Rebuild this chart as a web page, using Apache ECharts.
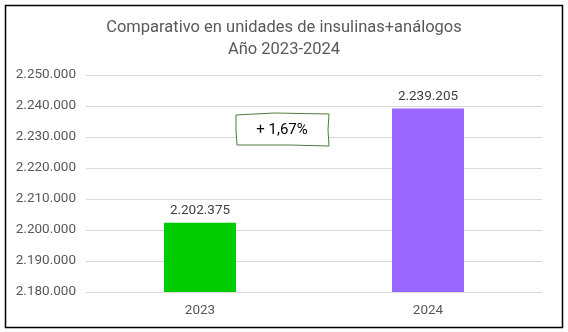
<!DOCTYPE html>
<html><head><meta charset="utf-8">
<script src="https://cdn.jsdelivr.net/npm/echarts@6/dist/echarts.min.js"></script>
<style>html,body{margin:0;padding:0;background:#fff}#c{width:568px;height:332px}</style>
</head><body><div id="c"></div>
<script>
const categories = ['2023', '2024'];
const values = [2202375, 2239205];
const barColors = ['#00CC00', '#9966FF'];
const titleText = 'Comparativo en unidades de insulinas+análogos\nAño 2023-2024';
const noteText = '+ 1,67%';
const yMin = 2180000, yMax = 2250000, yStep = 10000;

function fmt(v){ return String(Math.round(v)).replace(/\B(?=(\d{3})+(?!\d))/g, '.'); }

const chart = echarts.init(document.getElementById('c'));
chart.setOption({
  animation: false,
  textStyle: { fontFamily: 'Roboto, "Open Sans", sans-serif' },
  title: {
    text: titleText, left: 'center', top: 12,
    textStyle: { fontSize: 16.5, fontWeight: 'normal', color: '#595959', lineHeight: 22 }
  },
  grid: { left: 86, right: 26, top: 75, bottom: 40 },
  xAxis: {
    type: 'category', data: categories,
    axisLine: { show: false }, axisTick: { show: false },
    axisLabel: { color: '#595959', fontSize: 13.5, margin: 12 }
  },
  yAxis: {
    type: 'value', min: yMin, max: yMax, interval: yStep,
    axisLine: { show: false }, axisTick: { show: false },
    axisLabel: { color: '#595959', fontSize: 13.5, margin: 10, formatter: fmt },
    splitLine: { lineStyle: { color: '#D9D9D9', width: 1 } }
  },
  series: [{
    type: 'bar', barWidth: 72,
    data: values.map((v, i) => ({ value: v, itemStyle: { color: barColors[i] } })),
    label: { show: true, position: 'top', distance: 5, color: '#404040', fontSize: 13.5, formatter: p => fmt(p.value) }
  }],
  graphic: [
    { type: 'rect', left: 3, top: 3, shape: { width: 557, height: 322 }, style: { fill: 'none', stroke: '#000', lineWidth: 1.5 }, z: 100 },
    { type: 'polygon', shape: { points: [[236,115],[274,113],[329,114],[328,130],[329,146],[290,145],[237,145],[236,130]] },
      style: { fill: '#fff', stroke: '#4E7A3E', lineWidth: 1 }, z: 50 },
    { type: 'text', x: 282, y: 130, style: { text: noteText, fill: '#000', font: '15px Roboto, sans-serif', align: 'center', verticalAlign: 'middle' }, z: 51 }
  ]
});
</script></body></html>
